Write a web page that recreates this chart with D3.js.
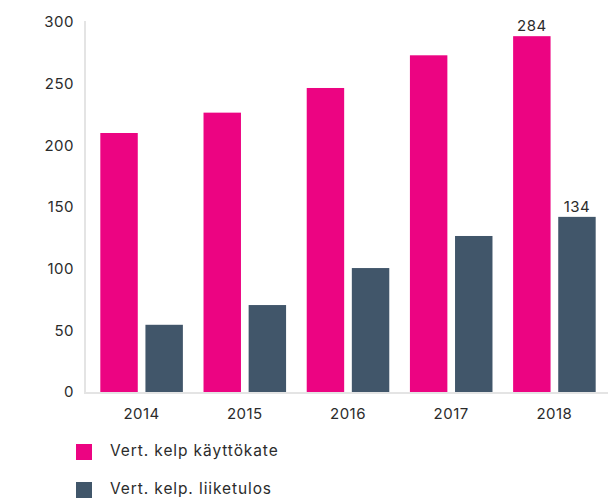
<!DOCTYPE html>
<html>
<head>
<meta charset="utf-8">
<script src="https://cdn.jsdelivr.net/npm/d3@7"></script>
<style>
    body { margin: 0; background: #fff; }
    text { font-family: Inter, "Open Sans", sans-serif; fill: #2b2b2b; letter-spacing: 0.5px; }
</style>
</head>
<body>
<script>
// Bar chart: two series per year

const years = ["2014", "2015", "2016", "2017", "2018"];
const seriesNames = ["Vert. kelp käyttökate", "Vert. kelp. liiketulos"];
const kayttokate = [210, 226.5, 246.5, 273, 288.5];
const liiketulos = [54.5, 70.5, 100.5, 126.5, 142];
// value labels shown above the bars (only last year is labelled)
const kayttokateLabels = ["", "", "", "", "284"];
const liiketulosLabels = ["", "", "", "", "134"];
const yTicks = [0, 50, 100, 150, 200, 250, 300];
const colors = ["#ec0482", "#41566a"];

const svgWidth = 614;
const svgHeight = 499;

let svg = d3.select("body")
    .append("svg")
    .attr("width", svgWidth)
    .attr("height", svgHeight);

let data = years.map((y, i) => ({
    year: y,
    values: [
        { key: 0, value: kayttokate[i], label: kayttokateLabels[i] },
        { key: 1, value: liiketulos[i], label: liiketulosLabels[i] }
    ]
}));

// scales
const x0 = d3.scaleBand()
    .domain(years)
    .range([90, 606])
    .paddingInner(0.2)
    .paddingOuter(0.1);

const x1 = d3.scaleBand()
    .domain([0, 1])
    .range([0, x0.bandwidth()])
    .paddingInner(0.17);

const y = d3.scaleLinear()
    .domain([0, 300])
    .range([392, 22]);

// axis lines
svg.append("line")
    .attr("x1", 85).attr("x2", 85)
    .attr("y1", 21).attr("y2", 394)
    .attr("stroke", "#e4e4e4")
    .attr("stroke-width", 2);

svg.append("line")
    .attr("x1", 84).attr("x2", 608)
    .attr("y1", 393).attr("y2", 393)
    .attr("stroke", "#e4e4e4")
    .attr("stroke-width", 2);

// y axis labels
let yAxis = svg.append("g")
    .attr("transform", "translate(74,0)")
    .call(d3.axisLeft(y).tickValues(yTicks).tickSize(0).tickPadding(0));
yAxis.select(".domain").remove();
yAxis.selectAll("text")
    .attr("font-size", "15px")
    .attr("font-family", null)
    .attr("fill", null);

// x axis labels
let xAxis = svg.append("g")
    .attr("transform", "translate(0,408)")
    .call(d3.axisBottom(x0).tickSize(0).tickPadding(0));
xAxis.select(".domain").remove();
xAxis.selectAll("text")
    .attr("font-size", "15px")
    .attr("font-family", null)
    .attr("fill", null);

// bars
let groups = svg.selectAll(".year")
    .data(data)
    .enter()
    .append("g")
    .attr("class", "year")
    .attr("transform", d => `translate(${x0(d.year)},0)`);

groups.selectAll("rect")
    .data(d => d.values)
    .enter()
    .append("rect")
    .attr("x", d => x1(d.key))
    .attr("y", d => y(d.value))
    .attr("width", x1.bandwidth())
    .attr("height", d => y(0) - y(d.value))
    .attr("fill", d => colors[d.key]);

groups.selectAll(".val")
    .data(d => d.values.filter(v => v.label !== ""))
    .enter()
    .append("text")
    .attr("class", "val")
    .attr("x", d => x1(d.key) + x1.bandwidth() / 2)
    .attr("y", d => y(d.value) - 5)
    .attr("text-anchor", "middle")
    .attr("font-size", "15px")
    .text(d => d.label);

// legend
let legend = svg.selectAll(".legend")
    .data(seriesNames)
    .enter()
    .append("g")
    .attr("class", "legend")
    .attr("transform", (d, i) => `translate(76,${444 + i * 38})`);

legend.append("rect")
    .attr("width", 16)
    .attr("height", 16)
    .attr("fill", (d, i) => colors[i]);

legend.append("text")
    .attr("x", 34)
    .attr("y", 7)
    .attr("dy", "0.35em")
    .attr("font-size", "15.5px")
    .style("letter-spacing", "0.9px")
    .text(d => d);
</script>
</body>
</html>
